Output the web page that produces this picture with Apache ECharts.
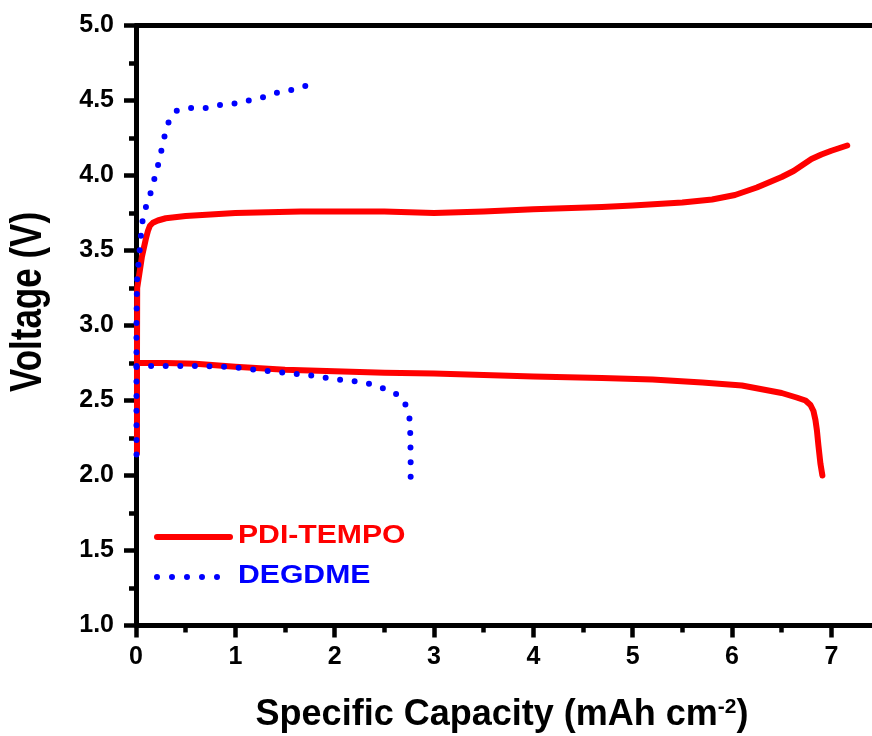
<!DOCTYPE html>
<html>
<head>
<meta charset="utf-8">
<script src="https://cdn.jsdelivr.net/npm/echarts@6/dist/echarts.min.js"></script>
<style>
  html, body { margin: 0; padding: 0; background: #fff; overflow: hidden; }
  /* plot frame runs past the right edge of the page, so the container is a bit wider */
  #chart { width: 881px; height: 736px; }
</style>
</head>
<body>
<div id="chart"></div>
<script>
// Galvanostatic charge/discharge profiles: [capacity (mAh cm^-2), voltage (V)]
const pdiCharge = [
  [0.01, 2.15], [0.01, 2.8], [0.012, 3.25], [0.06, 3.46], [0.10, 3.58], [0.12, 3.63],
  [0.14, 3.665], [0.17, 3.685], [0.22, 3.70], [0.3, 3.715], [0.5, 3.73], [1.0, 3.75],
  [1.66, 3.76], [2.0, 3.76], [2.5, 3.76], [3.0, 3.75], [3.5, 3.76], [4.0, 3.775],
  [4.69, 3.79], [5.0, 3.80], [5.5, 3.82], [5.8, 3.84], [6.03, 3.87], [6.25, 3.92],
  [6.5, 3.99], [6.62, 4.03], [6.71, 4.07], [6.8, 4.11], [6.9, 4.14], [7.0, 4.165],
  [7.16, 4.20]
];
const pdiDischarge = [
  [0.01, 2.75], [0.3, 2.75], [0.6, 2.745], [1.0, 2.725], [1.5, 2.705], [2.0, 2.695],
  [2.5, 2.685], [3.0, 2.68], [3.5, 2.67], [4.0, 2.66], [4.69, 2.65], [5.2, 2.64],
  [5.7, 2.62], [6.1, 2.60], [6.5, 2.55], [6.65, 2.52], [6.74, 2.50], [6.79, 2.47],
  [6.82, 2.43], [6.84, 2.37], [6.855, 2.30], [6.87, 2.2], [6.89, 2.08], [6.91, 2.0]
];
const degdmeCharge = [
  [0.005, 2.14], [0.005, 3.0], [0.01, 3.3], [0.03, 3.45], [0.06, 3.68], [0.10, 3.79],
  [0.15, 3.89], [0.19, 3.99], [0.23, 4.09], [0.26, 4.18], [0.29, 4.27], [0.33, 4.36],
  [0.40, 4.43], [0.55, 4.45], [0.7, 4.45], [0.85, 4.47], [1.0, 4.48], [1.13, 4.50],
  [1.27, 4.52], [1.41, 4.55], [1.56, 4.57], [1.72, 4.60]
];
const degdmeDischarge = [
  [0.005, 2.73], [0.11, 2.73], [0.41, 2.73], [0.69, 2.73], [0.85, 2.726], [1.0, 2.72],
  [1.14, 2.71], [1.28, 2.70], [1.43, 2.69], [1.58, 2.68], [1.73, 2.67], [2.02, 2.64],
  [2.31, 2.62], [2.45, 2.59], [2.58, 2.56], [2.69, 2.51], [2.75, 2.41], [2.76, 2.31],
  [2.765, 2.12], [2.765, 1.99]
];
const seriesNames = ['PDI-TEMPO', 'DEGDME'];
const xTicks = { min: 0, max: 7.5, interval: 1 };
const yTicks = { min: 1, max: 5, interval: 0.5 };

const FONT = '"Liberation Sans", Arial, Helvetica, sans-serif';
const RED = '#ff0000';
const BLUE = '#0000ff';

const chart = echarts.init(document.getElementById('chart'), null, { renderer: 'canvas' });

const redLine = { color: RED, width: 6, cap: 'round', join: 'round' };
const blueLine = { color: BLUE, width: 6, type: [0, 14.6], cap: 'round', join: 'round' };

function mkSeries(name, data, style) {
  return {
    name: name, type: 'line', data: data, showSymbol: false, symbol: 'none',
    lineStyle: style, clip: false, animation: false, z: 3
  };
}

const axisCommon = {
  axisLine: { show: true, onZero: false, lineStyle: { color: '#000', width: 5 } },
  axisTick: { show: true, inside: false, length: 12, lineStyle: { color: '#000', width: 4.5 } },
  minorTick: { show: true, splitNumber: 2, length: 7, lineStyle: { color: '#000', width: 4.5 } },
  splitLine: { show: false },
  minorSplitLine: { show: false }
};

chart.setOption({
  animation: false,
  backgroundColor: '#fff',
  grid: { left: 136, right: 0, top: 25.5, bottom: 110.5, containLabel: false },
  xAxis: [
    Object.assign({}, axisCommon, {
      type: 'value', position: 'bottom',
      min: xTicks.min, max: xTicks.max, interval: xTicks.interval,
      axisLabel: {
        show: true, margin: 19, color: '#000', fontSize: 25, fontWeight: 'bold',
        fontFamily: FONT, showMaxLabel: false,
        formatter: v => String(v)
      }
    }),
    {
      type: 'value', position: 'top',
      min: xTicks.min, max: xTicks.max, interval: xTicks.interval,
      axisLine: { show: true, lineStyle: { color: '#000', width: 5 } },
      axisTick: { show: false }, axisLabel: { show: false }, splitLine: { show: false }
    }
  ],
  yAxis: Object.assign({}, axisCommon, {
    type: 'value', min: yTicks.min, max: yTicks.max, interval: yTicks.interval,
    axisLabel: {
      show: true, margin: 22, color: '#000', fontSize: 25, fontWeight: 'bold',
      fontFamily: FONT, formatter: v => v.toFixed(1)
    }
  }),
  series: [
    mkSeries(seriesNames[0], pdiCharge, redLine),
    mkSeries(seriesNames[0], pdiDischarge, redLine),
    mkSeries(seriesNames[1], degdmeCharge, blueLine),
    mkSeries(seriesNames[1], degdmeDischarge, blueLine)
  ],
  graphic: [
    // axis titles
    {
      type: 'text', x: 29, y: 302, rotation: Math.PI / 2, scaleY: 1.25,
      style: {
        text: 'Voltage (V)', fill: '#000', font: 'bold 35px ' + FONT,
        textAlign: 'center', textVerticalAlign: 'middle'
      }
    },
    {
      type: 'text', x: 502, y: 715,
      style: {
        text: '{m|Specific Capacity (mAh cm}{s|-2}{m|)}',
        textAlign: 'center', textVerticalAlign: 'middle',
        rich: {
          m: { fontSize: 36, fontWeight: 'bold', fontFamily: FONT, fill: '#000', color: '#000' },
          s: { fontSize: 21, fontWeight: 'bold', fontFamily: FONT, fill: '#000', color: '#000', verticalAlign: 'top', padding: [0, 0, 14, 0] }
        }
      }
    },
    // legend
    {
      type: 'line', shape: { x1: 157, y1: 537, x2: 230, y2: 537 },
      style: { stroke: RED, lineWidth: 6, lineCap: 'round' }
    },
    {
      type: 'text', x: 238, y: 536, scaleX: 1.16,
      style: { text: seriesNames[0], fill: RED, font: 'bold 26px ' + FONT, textAlign: 'left', textVerticalAlign: 'middle' }
    },
    {
      type: 'line', shape: { x1: 157, y1: 577, x2: 218, y2: 577 },
      style: { stroke: BLUE, lineWidth: 6, lineCap: 'round', lineDash: [0, 15] }
    },
    {
      type: 'text', x: 238, y: 576, scaleX: 1.16,
      style: { text: seriesNames[1], fill: BLUE, font: 'bold 26px ' + FONT, textAlign: 'left', textVerticalAlign: 'middle' }
    }
  ]
});
</script>
</body>
</html>
